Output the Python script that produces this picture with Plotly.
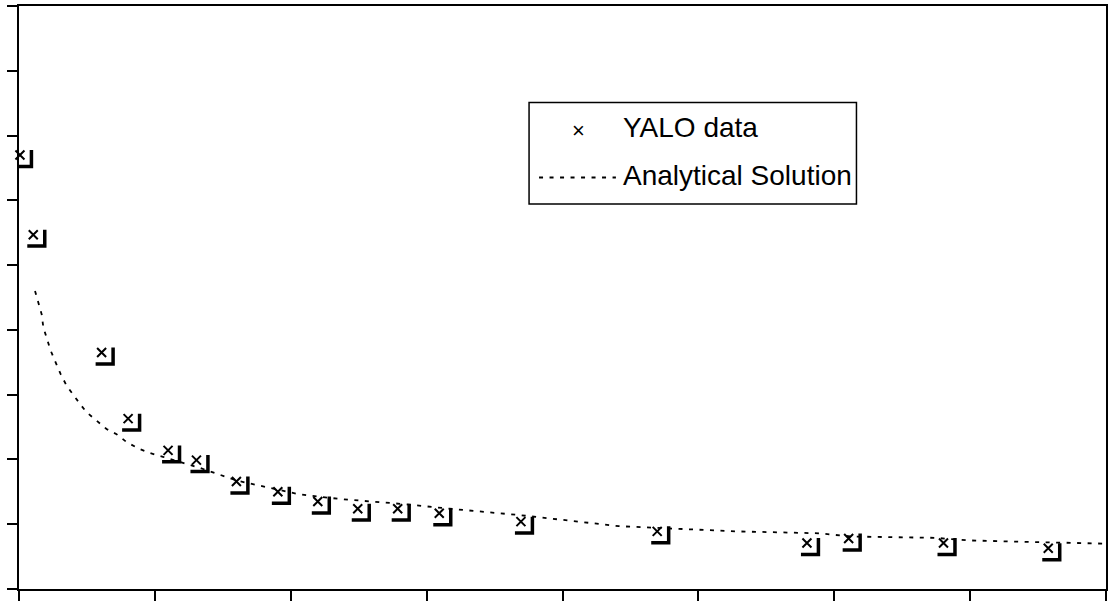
import plotly.graph_objects as go

# ---- data ----
yalo_x = [0.007, 0.105, 0.608, 0.803, 1.097, 1.306, 1.600, 1.905, 2.199, 2.493,
          2.787, 3.093, 3.694, 4.697, 5.799, 6.106, 6.804, 7.575]
yalo_y = [6.70, 5.47, 3.65, 2.63, 2.14, 1.99, 1.66, 1.50, 1.35, 1.24,
          1.24, 1.17, 1.04, 0.89, 0.71, 0.78, 0.71, 0.63]

anal_x = [0.118, 0.142, 0.167, 0.179, 0.204, 0.233, 0.265, 0.306, 0.350, 0.399,
          0.448, 0.497, 0.571, 0.644, 0.718, 0.791, 0.877, 0.963, 1.060, 1.330,
          1.609, 2.065, 2.359, 2.652, 2.836, 3.167, 3.424, 3.688, 4.415, 4.908,
          5.275, 5.885, 6.128, 6.745, 6.987, 7.575, 8.000]
anal_y = [4.60, 4.42, 4.24, 4.04, 3.86, 3.68, 3.52, 3.32, 3.14, 2.99,
          2.86, 2.73, 2.60, 2.47, 2.39, 2.27, 2.17, 2.10, 2.04, 1.87,
          1.67, 1.46, 1.39, 1.34, 1.31, 1.24, 1.19, 1.14, 0.97, 0.93,
          0.89, 0.86, 0.81, 0.79, 0.75, 0.72, 0.70]

legend_labels = ["YALO data", "Analytical Solution"]

# ---- layout geometry ----
W, H = 1112, 603
ML, MR, MT, MB = 19, 4, 5, 12
XR = (0, 8)
YR = (0, 9)
pw = W - ML - MR
ph = H - MT - MB
ppx = pw / (XR[1] - XR[0])   # pixels per x unit
ppy = ph / (YR[1] - YR[0])   # pixels per y unit

# corner "shadow" glyph attached to each data marker (pixel offsets -> data units)
cx, cy = [], []
for x, y in zip(yalo_x, yalo_y):
    cx += [x - 6 / ppx, x + 11.5 / ppx, x + 11.5 / ppx, None]
    cy += [y - 11.5 / ppy, y - 11.5 / ppy, y + 5 / ppy, None]

DASH = "4px,6.5px"

fig = go.Figure()
fig.add_trace(go.Scatter(x=anal_x, y=anal_y, mode="lines", name=legend_labels[1],
                         line=dict(color="black", width=1.8, dash=DASH),
                         showlegend=False))
fig.add_trace(go.Scatter(x=cx, y=cy, mode="lines", showlegend=False, cliponaxis=False,
                         line=dict(color="black", width=3.5), hoverinfo="skip"))
fig.add_trace(go.Scatter(x=yalo_x, y=yalo_y, mode="markers", name=legend_labels[0],
                         cliponaxis=False,
                         marker=dict(symbol="x-thin", size=9, color="black",
                                     line=dict(color="black", width=2)),
                         showlegend=False))


def px2paper(px, py):
    return (px - ML) / pw, (H - MB - py) / ph


FONT = dict(family="Liberation Sans, Arial", size=28, color="black")

shapes = []
x0, y0 = px2paper(530, 102)
x1, y1 = px2paper(858, 204)
shapes.append(dict(type="rect", xref="paper", yref="paper", x0=x0, y0=y1, x1=x1, y1=y0,
                   line=dict(color="black", width=1.5), fillcolor="white", layer="above"))
lx0, ly = px2paper(540, 177.5)
lx1, _ = px2paper(617, 177.5)
shapes.append(dict(type="line", xref="paper", yref="paper", x0=lx0, y0=ly, x1=lx1, y1=ly,
                   line=dict(color="black", width=2, dash=DASH), layer="above"))

annotations = []
ax, ay = px2paper(622, 126.7)
annotations.append(dict(xref="paper", yref="paper", x=ax, y=ay, xanchor="left", yanchor="middle",
                        text=legend_labels[0], showarrow=False, font=FONT))
ax, ay = px2paper(622, 175)
annotations.append(dict(xref="paper", yref="paper", x=ax, y=ay, xanchor="left", yanchor="middle",
                        text=legend_labels[1], showarrow=False, font=FONT))
ax, ay = px2paper(580, 130)
annotations.append(dict(xref="paper", yref="paper", x=ax, y=ay, xanchor="center", yanchor="middle",
                        text="×", showarrow=False,
                        font=dict(family="Liberation Sans, Arial", size=22, color="black")))

axis_common = dict(showgrid=False, zeroline=False, showticklabels=False,
                   showline=True, linecolor="black", linewidth=2, mirror=True,
                   ticks="outside", tickcolor="black", tickwidth=2, ticklen=10, dtick=1)

fig.update_layout(
    width=W, height=H,
    margin=dict(l=ML, r=MR, t=MT, b=MB),
    paper_bgcolor="white", plot_bgcolor="white",
    xaxis=dict(range=list(XR), tick0=0, **axis_common),
    yaxis=dict(range=list(YR), tick0=0, **axis_common),
    shapes=shapes, annotations=annotations, showlegend=False,
)

fig.write_html("out.html")
